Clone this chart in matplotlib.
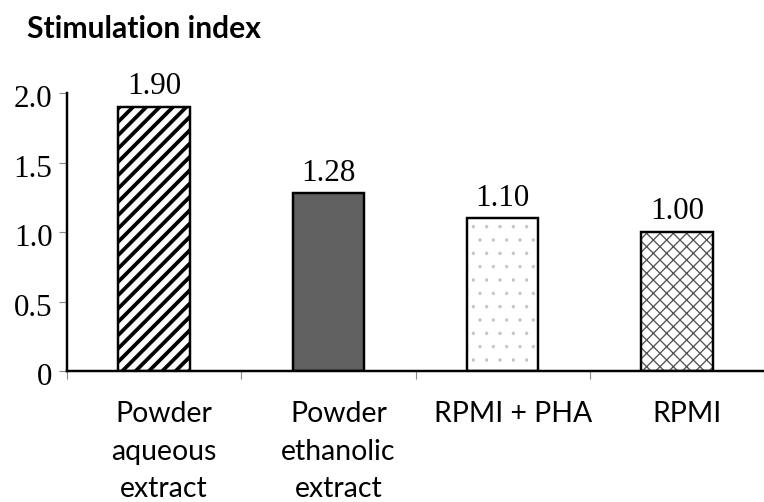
import matplotlib
matplotlib.use("Agg")
import matplotlib.pyplot as plt
import matplotlib.transforms as mtransforms

categories = ["Powder\naqueous\nextract", "Powder\nethanolic\nextract", "RPMI + PHA", "RPMI"]
values = [1.90, 1.28, 1.10, 1.00]
value_labels = ["1.90", "1.28", "1.10", "1.00"]
yticks = [0, 0.5, 1.0, 1.5, 2.0]
ytick_labels = ["0", "0.5", "1.0", "1.5", "2.0"]

DPI = 80
fig = plt.figure(figsize=(764 / DPI, 502 / DPI), dpi=DPI)
ax = fig.add_axes([67 / 764, 1 - 371 / 502, 1 - 67 / 764, (371 - 93) / 502])

x = list(range(len(categories)))
w = 0.41

# fills and hatches (hatch colour follows edgecolor, so outline drawn separately)
plt.rcParams['hatch.linewidth'] = 3.4
ax.bar(x[0], values[0], w, color='white', edgecolor='black', hatch='//', linewidth=0, zorder=2)
ax.bar(x[1], values[1], w, color='#606060', linewidth=0, zorder=2)
plt.rcParams['hatch.linewidth'] = 0.6
ax.bar(x[2], values[2], w, color='white', edgecolor='#c4c4c4', hatch='.', linewidth=0, zorder=2)
plt.rcParams['hatch.linewidth'] = 1.2
ax.bar(x[3], values[3], w, color='white', edgecolor='#555555', hatch='xx', linewidth=0, zorder=2)
# outlines
ax.bar(x, values, w, fill=False, edgecolor='black', linewidth=2.2, zorder=3)

for xi, v, t in zip(x, values, value_labels):
    ax.annotate(t, (xi, v), xytext=(0, 5), textcoords='offset points', ha='center', va='bottom',
                family='Liberation Serif', fontsize=28, annotation_clip=False)

ax.set_xlim(-0.5, -0.5 + (764 - 67) / 177)
ax.set_ylim(0, 2.0)

for s in ['top', 'right']:
    ax.spines[s].set_visible(False)
ax.spines['left'].set_linewidth(2.2)
ax.spines['bottom'].set_linewidth(2.2)

ax.set_yticks(yticks, labels=ytick_labels)
ax.tick_params(axis='y', direction='out', length=7, width=1, color='#888888', pad=6,
               labelsize=28)
for lbl in ax.get_yticklabels():
    lbl.set_family('Liberation Serif')
    lbl.set_transform(lbl.get_transform() + mtransforms.ScaledTranslation(0, -3 / DPI, fig.dpi_scale_trans))

# category boundaries as major ticks, names as minor tick labels
ax.set_xticks([i - 0.5 for i in range(len(categories) + 1)], labels=[])
ax.tick_params(axis='x', which='major', direction='out', length=7, width=1, color='#888888')
ax.set_xticks(x, labels=categories, minor=True)
ax.tick_params(axis='x', which='minor', length=0, pad=27, labelsize=25.5)
offset = mtransforms.ScaledTranslation(10 / DPI, 0, fig.dpi_scale_trans)
for lbl in ax.get_xticklabels(minor=True):
    lbl.set_family('Lato')
    lbl.set_linespacing(1.55)
    lbl.set_transform(lbl.get_transform() + offset)

fig.text(27 / 764, 1 - 29 / 502, "Stimulation index", family='Lato', fontweight='bold',
         fontsize=27, ha='left', va='center')

fig.savefig("out.png", dpi=DPI)
